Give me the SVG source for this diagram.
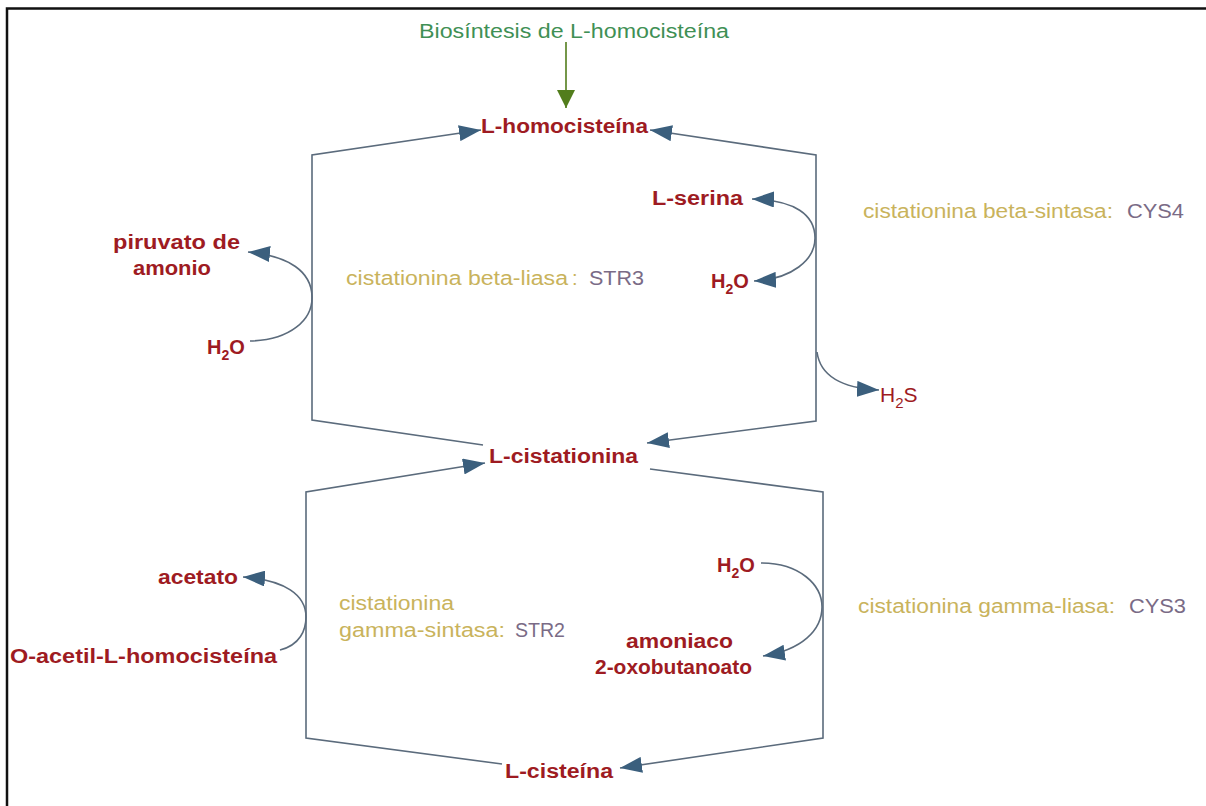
<svg xmlns="http://www.w3.org/2000/svg" width="1206" height="806" viewBox="0 0 1206 806">
<style>
.m{font-family:"Liberation Sans",Arial,sans-serif;font-size:20px;font-weight:bold;fill:#9e1b22}
.r{font-family:"Liberation Sans",Arial,sans-serif;font-size:21px;fill:#9e1b22}
.e{font-family:"Liberation Sans",Arial,sans-serif;font-size:20px;fill:#c9b35c}
.g{font-family:"Liberation Sans",Arial,sans-serif;font-size:20px;fill:#7a6b86}
.src{font-family:"Liberation Sans",Arial,sans-serif;font-size:20px;fill:#3f9055}
.c{fill:none;stroke:#5b6b7c;stroke-width:1.6}
</style>
<defs>
<marker id="ah" viewBox="0 0 22 16" refX="22" refY="8" markerWidth="22" markerHeight="16" markerUnits="userSpaceOnUse" orient="auto-start-reverse">
<path d="M0,0 L22,8 L0,16 z" fill="#3b5f7d"/>
</marker>
<marker id="gh" viewBox="0 0 18 18" refX="9" refY="18" markerWidth="18" markerHeight="18" markerUnits="userSpaceOnUse" orient="0">
<path d="M0,0 L18,0 L9,18 z" fill="#527d1c"/>
</marker>
</defs>
<rect x="0" y="0" width="1206" height="806" fill="#fff"/>
<path d="M7,806 V8.5 H1206" fill="none" stroke="#111" stroke-width="2.5"/>

<g id="connectors">
<line x1="566" y1="42" x2="566" y2="108" stroke="#527d1c" stroke-width="1.6" marker-end="url(#gh)"/>
<path class="c" d="M483,445 L312,420 L312,155 L481,130" marker-end="url(#ah)"/>
<path class="c" d="M650,130 L816,155 L816,421 L647,443" marker-start="url(#ah)" marker-end="url(#ah)"/>
<path class="c" d="M502,764 L306,738 L306,492 L485,463" marker-end="url(#ah)"/>
<path class="c" d="M650,469 L823,492 L823,738 L620,768" marker-end="url(#ah)"/>
<path class="c" d="M250,341 C290,340 313,320 312,296 C311,272 290,256 248,252" marker-end="url(#ah)"/>
<path class="c" d="M754,281 C792,279 815,260 815,238 C815,215 795,200 752,199" marker-start="url(#ah)" marker-end="url(#ah)"/>
<path class="c" d="M817,352 C820,375 840,388 879,390" marker-end="url(#ah)"/>
<path class="c" d="M761,563 C800,563 822,585 822,607 C822,630 802,650 763,656" marker-end="url(#ah)"/>
<path class="c" d="M280,650 C300,645 306,630 306,617 C306,595 285,580 243,577" marker-end="url(#ah)"/>
</g>

<g id="biosintesis"><text class="src" x="419" y="38" textLength="310" lengthAdjust="spacingAndGlyphs">Biosíntesis de L-homocisteína</text></g>
<g id="homocisteina"><text class="m" x="481" y="133" textLength="167" lengthAdjust="spacingAndGlyphs">L-homocisteína</text></g>
<g id="serina"><text class="m" x="652" y="205" textLength="91" lengthAdjust="spacingAndGlyphs">L-serina</text></g>
<g id="h2o-a"><text class="m" x="711" y="288" font-size="21">H<tspan font-size="14" dy="6">2</tspan><tspan dy="-6">O</tspan></text></g>
<g id="h2s"><text class="r" x="880" y="402">H<tspan font-size="15" dy="6">2</tspan><tspan dy="-6">S</tspan></text></g>
<g id="piruvato">
<text class="m" x="113" y="249" textLength="127" lengthAdjust="spacingAndGlyphs">piruvato de</text>
<text class="m" x="133" y="275" textLength="78" lengthAdjust="spacingAndGlyphs">amonio</text>
</g>
<g id="h2o-b"><text class="m" x="207" y="354" font-size="21">H<tspan font-size="14" dy="6">2</tspan><tspan dy="-6">O</tspan></text></g>
<g id="enz-str3">
<text class="e" x="346" y="285" textLength="222" lengthAdjust="spacingAndGlyphs">cistationina beta-liasa</text>
<text class="e" x="572" y="285">:</text>
<text class="g" x="589" y="285" textLength="55" lengthAdjust="spacingAndGlyphs">STR3</text>
</g>
<g id="enz-cys4">
<text class="e" x="863" y="218" textLength="250" lengthAdjust="spacingAndGlyphs">cistationina beta-sintasa:</text>
<text class="g" x="1127" y="218" textLength="57" lengthAdjust="spacingAndGlyphs">CYS4</text>
</g>
<g id="cistationina"><text class="m" x="489" y="463" textLength="149" lengthAdjust="spacingAndGlyphs">L-cistationina</text></g>
<g id="acetato"><text class="m" x="158" y="584" textLength="80" lengthAdjust="spacingAndGlyphs">acetato</text></g>
<g id="oacetil"><text class="m" x="10" y="663" textLength="267" lengthAdjust="spacingAndGlyphs">O-acetil-L-homocisteína</text></g>
<g id="enz-str2">
<text class="e" x="339" y="610" textLength="115" lengthAdjust="spacingAndGlyphs">cistationina</text>
<text class="e" x="339" y="637" textLength="166" lengthAdjust="spacingAndGlyphs">gamma-sintasa:</text>
<text class="g" x="515" y="637" textLength="50" lengthAdjust="spacingAndGlyphs">STR2</text>
</g>
<g id="h2o-c"><text class="m" x="717" y="572" font-size="21">H<tspan font-size="14" dy="6">2</tspan><tspan dy="-6">O</tspan></text></g>
<g id="amoniaco">
<text class="m" x="626" y="648" textLength="107" lengthAdjust="spacingAndGlyphs">amoniaco</text>
<text class="m" x="595" y="674" textLength="157" lengthAdjust="spacingAndGlyphs">2-oxobutanoato</text>
</g>
<g id="enz-cys3">
<text class="e" x="858" y="613" textLength="257" lengthAdjust="spacingAndGlyphs">cistationina gamma-liasa:</text>
<text class="g" x="1129" y="613" textLength="57" lengthAdjust="spacingAndGlyphs">CYS3</text>
</g>
<g id="cisteina"><text class="m" x="505" y="778" textLength="108" lengthAdjust="spacingAndGlyphs">L-cisteína</text></g>
</svg>
